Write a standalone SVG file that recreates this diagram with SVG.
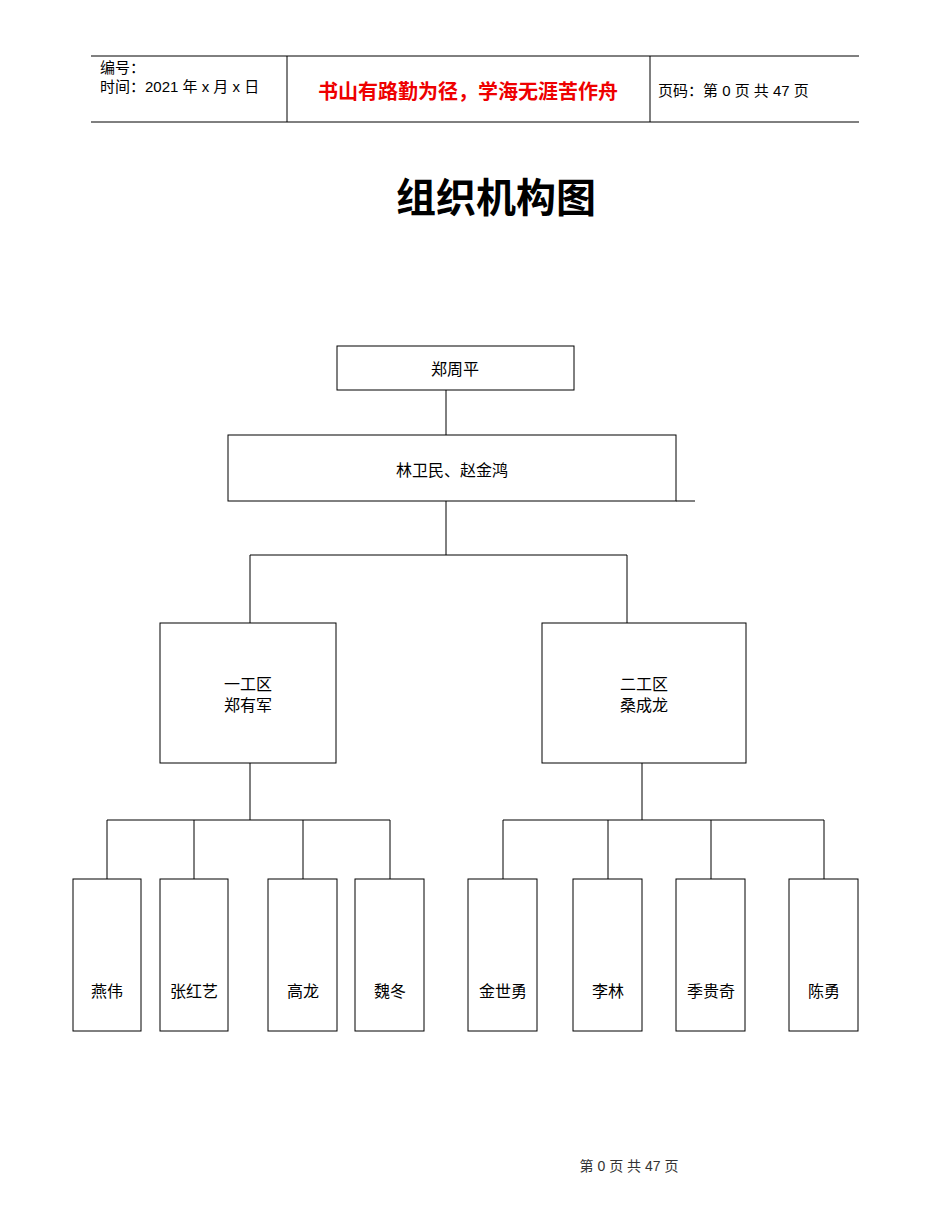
<svg xmlns="http://www.w3.org/2000/svg" width="950" height="1230" viewBox="0 0 950 1230">
<style>
.b{fill:#fff;stroke:#000;stroke-width:1}
.l{stroke:#000;stroke-width:1;fill:none}
.t{font-family:"Liberation Serif","Noto Sans CJK SC",serif;font-size:16px;text-anchor:middle}
.h{font-family:"Liberation Sans","Noto Sans CJK SC",sans-serif;font-size:15px}
</style>
<rect width="950" height="1230" fill="#fff"/>
<g id="header">
<line class="l" x1="91" y1="56" x2="859" y2="56" stroke="#555"/>
<line class="l" x1="91" y1="122" x2="859" y2="122" stroke="#555"/>
<line class="l" x1="287" y1="56" x2="287" y2="122"/>
<line class="l" x1="650" y1="56" x2="650" y2="122"/>
<text class="h" x="100" y="73">编号：</text>
<text class="h" x="100" y="92">时间：2021 年 x 月 x 日</text>
<text class="h" x="468" y="99" text-anchor="middle" fill="#e00" style="font-size:20px;font-weight:bold">书山有路勤为径，学海无涯苦作舟</text>
<text class="h" x="658" y="96">页码：第 0 页  共 47 页</text>
</g>
<text x="496" y="212" text-anchor="middle" font-family="'Noto Sans CJK SC',sans-serif" font-size="40" font-weight="bold">组织机构图</text>
<g id="connectors">
<path class="l" d="M446 390V435M446 501V555M250 555H627M250 555V623M627 555V623M250 763V820M107 820H390M107 820V879M194 820V879M303 820V879M390 820V879M642 763V820M503 820H824M503 820V879M608 820V879M711 820V879M824 820V879M676 501H695"/>
</g>
<g id="n1"><rect class="b" x="337" y="346" width="237" height="44"/><text class="t" x="455" y="375">郑周平</text></g>
<g id="n2"><rect class="b" x="228" y="435" width="448" height="66"/><text class="t" x="452" y="476">林卫民、赵金鸿</text></g>
<g id="n3"><rect class="b" x="160" y="623" width="176" height="140"/><text class="t" x="248" y="690">一工区</text><text class="t" x="248" y="711">郑有军</text></g>
<g id="n4"><rect class="b" x="542" y="623" width="204" height="140"/><text class="t" x="644" y="690">二工区</text><text class="t" x="644" y="711">桑成龙</text></g>
<g id="n5"><rect class="b" x="73" y="879" width="68" height="152"/><text class="t" x="107" y="997">燕伟</text></g>
<g id="n6"><rect class="b" x="160" y="879" width="68" height="152"/><text class="t" x="194" y="997">张红艺</text></g>
<g id="n7"><rect class="b" x="268" y="879" width="69" height="152"/><text class="t" x="303" y="997">高龙</text></g>
<g id="n8"><rect class="b" x="355" y="879" width="69" height="152"/><text class="t" x="390" y="997">魏冬</text></g>
<g id="n9"><rect class="b" x="468" y="879" width="69" height="152"/><text class="t" x="503" y="997">金世勇</text></g>
<g id="n10"><rect class="b" x="573" y="879" width="69" height="152"/><text class="t" x="608" y="997">李林</text></g>
<g id="n11"><rect class="b" x="676" y="879" width="69" height="152"/><text class="t" x="711" y="997">季贵奇</text></g>
<g id="n12"><rect class="b" x="789" y="879" width="69" height="152"/><text class="t" x="824" y="997">陈勇</text></g>
<text class="h" x="629" y="1171" text-anchor="middle" fill="#333" style="font-size:14px">第  0  页  共  47  页</text>
</svg>
